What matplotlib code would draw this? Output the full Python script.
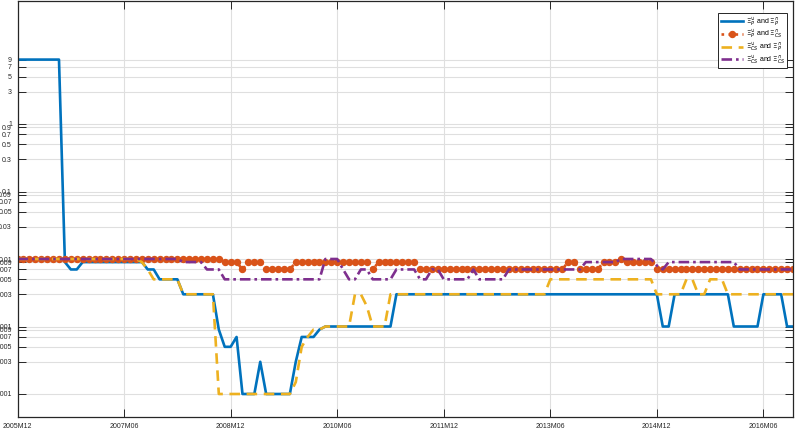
import numpy as np
import matplotlib
matplotlib.use("Agg")
import matplotlib.pyplot as plt
from matplotlib.ticker import FixedLocator, NullLocator, FixedFormatter

plt.rcParams['font.family'] = ['Liberation Sans', 'DejaVu Sans']
plt.rcParams['mathtext.fontset'] = 'dejavusans'

# monthly values, 2005M12 .. 2016M11 (12 per row)
xi_p_p = [9, 9, 9, 9, 9, 9, 9, 9, 0.009, 0.007, 0.007, 0.009,
          0.009, 0.009, 0.009, 0.009, 0.009, 0.009, 0.009, 0.009, 0.009, 0.009, 0.007, 0.007,
          0.005, 0.005, 0.005, 0.005, 0.003, 0.003, 0.003, 0.003, 0.003, 0.003, 0.0009, 0.0005,
          0.0005, 0.0007, 0.0001, 0.0001, 0.0001, 0.0003, 0.0001, 0.0001, 0.0001, 0.0001, 0.0001, 0.0003,
          0.0007, 0.0007, 0.0007, 0.0009, 0.001, 0.001, 0.001, 0.001, 0.001, 0.001, 0.001, 0.001,
          0.001, 0.001, 0.001, 0.001, 0.003, 0.003, 0.003, 0.003, 0.003, 0.003, 0.003, 0.003,
          0.003, 0.003, 0.003, 0.003, 0.003, 0.003, 0.003, 0.003, 0.003, 0.003, 0.003, 0.003,
          0.003, 0.003, 0.003, 0.003, 0.003, 0.003, 0.003, 0.003, 0.003, 0.003, 0.003, 0.003,
          0.003, 0.003, 0.003, 0.003, 0.003, 0.003, 0.003, 0.003, 0.003, 0.003, 0.003, 0.003,
          0.003, 0.001, 0.001, 0.003, 0.003, 0.003, 0.003, 0.003, 0.003, 0.003, 0.003, 0.003,
          0.003, 0.001, 0.001, 0.001, 0.001, 0.001, 0.003, 0.003, 0.003, 0.003, 0.001, 0.001]

xi_p_cs = [0.01, 0.01, 0.01, 0.01, 0.01, 0.01, 0.01, 0.01, 0.01, 0.01, 0.01, 0.01,
           0.01, 0.01, 0.01, 0.01, 0.01, 0.01, 0.01, 0.01, 0.01, 0.01, 0.01, 0.01,
           0.01, 0.01, 0.01, 0.01, 0.01, 0.01, 0.01, 0.01, 0.01, 0.01, 0.01, 0.009,
           0.009, 0.009, 0.007, 0.009, 0.009, 0.009, 0.007, 0.007, 0.007, 0.007, 0.007, 0.009,
           0.009, 0.009, 0.009, 0.009, 0.009, 0.009, 0.009, 0.009, 0.009, 0.009, 0.009, 0.009,
           0.007, 0.009, 0.009, 0.009, 0.009, 0.009, 0.009, 0.009, 0.007, 0.007, 0.007, 0.007,
           0.007, 0.007, 0.007, 0.007, 0.007, 0.007, 0.007, 0.007, 0.007, 0.007, 0.007, 0.007,
           0.007, 0.007, 0.007, 0.007, 0.007, 0.007, 0.007, 0.007, 0.007, 0.009, 0.009, 0.007,
           0.007, 0.007, 0.007, 0.009, 0.009, 0.009, 0.01, 0.009, 0.009, 0.009, 0.009, 0.009,
           0.007, 0.007, 0.007, 0.007, 0.007, 0.007, 0.007, 0.007, 0.007, 0.007, 0.007, 0.007,
           0.007, 0.007, 0.007, 0.007, 0.007, 0.007, 0.007, 0.007, 0.007, 0.007, 0.007, 0.007]

xi_cs_p = [0.01, 0.01, 0.01, 0.01, 0.01, 0.01, 0.01, 0.01, 0.01, 0.01, 0.01, 0.01,
           0.01, 0.01, 0.01, 0.01, 0.01, 0.01, 0.01, 0.01, 0.01, 0.009, 0.007, 0.005,
           0.005, 0.005, 0.005, 0.005, 0.003, 0.003, 0.003, 0.003, 0.003, 0.003, 0.0001, 0.0001,
           0.0001, 0.0001, 0.0001, 0.0001, 0.0001, 0.0001, 0.0001, 0.0001, 0.0001, 0.0001, 0.0001, 0.00015,
           0.0005, 0.0007, 0.0009, 0.0009, 0.001, 0.001, 0.001, 0.001, 0.001, 0.003, 0.003, 0.002,
           0.001, 0.001, 0.001, 0.003, 0.003, 0.003, 0.003, 0.003, 0.003, 0.003, 0.003, 0.003,
           0.003, 0.003, 0.003, 0.003, 0.003, 0.003, 0.003, 0.003, 0.003, 0.003, 0.003, 0.003,
           0.003, 0.003, 0.003, 0.003, 0.003, 0.003, 0.005, 0.005, 0.005, 0.005, 0.005, 0.005,
           0.005, 0.005, 0.005, 0.005, 0.005, 0.005, 0.005, 0.005, 0.005, 0.005, 0.005, 0.005,
           0.003, 0.003, 0.003, 0.003, 0.003, 0.005, 0.005, 0.003, 0.003, 0.005, 0.005, 0.005,
           0.003, 0.003, 0.003, 0.003, 0.003, 0.003, 0.003, 0.003, 0.003, 0.003, 0.003, 0.003]

xi_cs_cs = [0.01, 0.01, 0.01, 0.01, 0.01, 0.01, 0.01, 0.01, 0.01, 0.01, 0.01, 0.01,
            0.01, 0.01, 0.01, 0.01, 0.01, 0.01, 0.01, 0.01, 0.01, 0.01, 0.01, 0.01,
            0.01, 0.01, 0.01, 0.01, 0.009, 0.009, 0.009, 0.009, 0.007, 0.007, 0.007, 0.005,
            0.005, 0.005, 0.005, 0.005, 0.005, 0.005, 0.005, 0.005, 0.005, 0.005, 0.005, 0.005,
            0.005, 0.005, 0.005, 0.005, 0.01, 0.01, 0.01, 0.007, 0.005, 0.005, 0.007, 0.007,
            0.005, 0.005, 0.005, 0.005, 0.007, 0.007, 0.007, 0.007, 0.005, 0.005, 0.007, 0.007,
            0.005, 0.005, 0.005, 0.005, 0.005, 0.007, 0.005, 0.005, 0.005, 0.005, 0.005, 0.007,
            0.007, 0.007, 0.007, 0.007, 0.007, 0.007, 0.007, 0.007, 0.007, 0.007, 0.007, 0.007,
            0.009, 0.009, 0.009, 0.009, 0.009, 0.009, 0.01, 0.01, 0.01, 0.01, 0.01, 0.01,
            0.008, 0.007, 0.009, 0.009, 0.009, 0.009, 0.009, 0.009, 0.009, 0.009, 0.009, 0.009,
            0.009, 0.009, 0.007, 0.007, 0.007, 0.007, 0.007, 0.007, 0.007, 0.007, 0.007, 0.007]

x_tick_labels = ['2005M12', '2007M06', '2008M12', '2010M06', '2011M12', '2013M06', '2014M12', '2016M06']
y_ticks = [0.0001, 0.0003, 0.0005, 0.0007, 0.0009, 0.001, 0.003, 0.005, 0.007, 0.009,
           0.01, 0.03, 0.05, 0.07, 0.09, 0.1, 0.3, 0.5, 0.7, 0.9, 1, 3, 5, 7, 9]

labels = [r'$\Xi^{\cup}_{P}$ and $\Xi^{\cap}_{P}$',
          r'$\Xi^{\cup}_{P}$ and $\Xi^{\cap}_{CS}$',
          r'$\Xi^{\cup}_{CS}$ and $\Xi^{\cap}_{P}$',
          r'$\Xi^{\cup}_{CS}$ and $\Xi^{\cap}_{CS}$']

months = np.arange(len(xi_p_p))

fig = plt.figure(figsize=(7.98, 4.38), dpi=100)
ax = fig.add_axes([17.55 / 798, 21 / 438, (793 - 17.55) / 798, (417 - 1) / 438])

ax.plot(months, xi_p_p, color='#0072BD', lw=1.9, label=labels[0])
ax.plot(months, xi_p_cs, color='#D95319', lw=1.9, ls=':', marker='o', ms=4.3,
        label=labels[1])
ax.plot(months, xi_cs_p, color='#EDB120', lw=1.9, ls=(0, (4, 2.5)), label=labels[2])
ax.plot(months, xi_cs_cs, color='#7E2F8E', lw=1.9, ls=(0, (4, 1.5, 1, 1.5)), label=labels[3])

ax.set_yscale('log')
ax.set_ylim(10 ** (-4 - 23 / 67.5), 10 ** (-2 + 258 / 67.5))
ax.set_xlim(0, 131)

ax.yaxis.set_major_locator(FixedLocator(y_ticks))
ax.yaxis.set_major_formatter(FixedFormatter(['%g' % v for v in y_ticks]))
ax.yaxis.set_minor_locator(NullLocator())
ax.set_xticks(np.arange(0, 132, 18))
ax.set_xticklabels(x_tick_labels)

ax.grid(True, color='#dfdfdf', lw=0.8)
ax.set_axisbelow(True)
ax.tick_params(direction='in', length=5.5, width=0.7, colors='#262626',
               labelsize=5, top=True, right=True, pad=4)
for s in ax.spines.values():
    s.set_color('#262626')
    s.set_linewidth(0.9)

leg = ax.legend(loc='upper right', bbox_to_anchor=(787.3 / 798, 1 - 13.3 / 438),
                bbox_transform=fig.transFigure, borderaxespad=0, fontsize=5,
                fancybox=False, edgecolor='#262626', framealpha=1,
                handlelength=3.2, handletextpad=0.4, labelspacing=0.05, borderpad=0.3)
leg.get_frame().set_linewidth(0.7)

fig.savefig('out.png', dpi=100)
